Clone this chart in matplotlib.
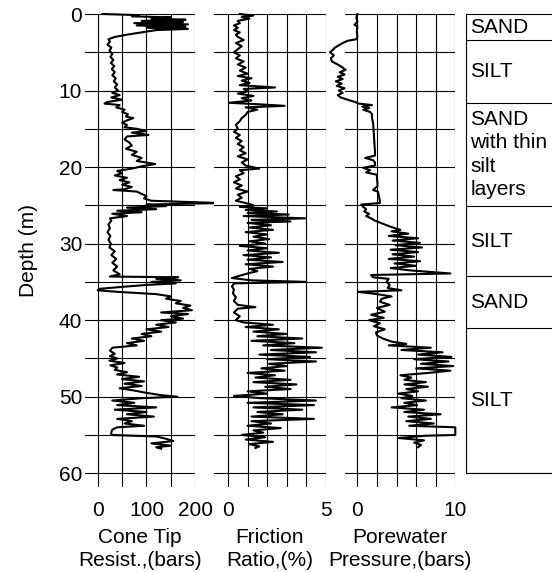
import numpy as np
import matplotlib
matplotlib.use('Agg')
import matplotlib.pyplot as plt

plt.rcParams['font.family'] = ['Liberation Sans', 'DejaVu Sans']
plt.rcParams['font.size'] = 15

# cone tip resistance (bars) vs depth (m)
cone_depth = [0.0, 0.15, 0.3, 0.45, 0.6, 0.75, 0.9, 1.05, 1.2, 1.35, 1.5, 1.65, 1.8, 1.95, 2.1, 2.4, 2.7,
              3.0, 3.3, 3.6, 4.0, 4.4, 4.8, 5.2, 5.6, 6.0, 6.4, 6.8, 7.2, 7.6, 8.0, 8.4, 8.8, 9.2, 9.6,
              10.0, 10.3, 10.6, 10.9, 11.2, 11.5, 11.7, 11.9, 12.2, 12.5, 12.8, 13.1, 13.4, 13.6, 13.9,
              14.2, 14.5, 14.8, 15.0, 15.3, 15.5, 15.8, 16.0, 16.4, 16.8, 17.2, 17.6, 18.0, 18.4, 18.8,
              19.2, 19.6, 19.9, 20.2, 20.5, 20.8, 21.1, 21.4, 21.7, 22.0, 22.3, 22.6, 22.9, 23.0, 23.2,
              23.5, 23.8, 24.1, 24.4, 24.7, 24.9, 25.1, 25.3, 25.5, 25.7, 25.9, 26.1, 26.4, 26.7, 27.0,
              27.5, 28.0, 28.5, 29.0, 29.5, 30.0, 30.5, 31.0, 31.5, 32.0, 32.5, 33.0, 33.5, 34.0, 34.3,
              34.4, 34.6, 34.8, 35.0, 35.2, 35.4, 35.6, 35.9, 36.1, 36.3, 36.6, 36.9, 37.2, 37.5, 37.8,
              38.1, 38.4, 38.7, 39.0, 39.2, 39.5, 39.8, 40.0, 40.3, 40.6, 40.9, 41.2, 41.5, 41.8, 42.1,
              42.4, 42.7, 43.0, 43.3, 43.6, 44.0, 44.4, 44.7, 45.0, 45.3, 45.6, 45.9, 46.2, 46.5, 46.8,
              47.1, 47.4, 47.7, 48.0, 48.3, 48.6, 48.9, 49.2, 49.5, 49.8, 50.0, 50.2, 50.5, 50.8, 51.1,
              51.4, 51.7, 52.0, 52.3, 52.6, 52.9, 53.2, 53.5, 53.8, 54.0, 54.3, 54.6, 55.0, 55.2, 55.5,
              55.8, 56.1, 56.4, 56.6, 56.8]
cone_tip = [10, 85, 70, 150, 110, 180, 90, 175, 75, 185, 80, 180, 100, 185, 120, 90, 60,
            35, 22, 25, 20, 28, 24, 30, 26, 32, 27, 34, 29, 35, 30, 37, 33, 40, 35,
            42, 30, 45, 28, 50, 20, 14, 45, 38, 55, 50, 62, 58, 73, 60,
            50, 60, 55, 80, 100, 70, 104, 60, 55, 65, 70, 58, 80, 70, 90,
            80, 118, 90, 70, 40, 50, 35, 60, 45, 65, 50, 70, 55, 32, 80,
            90, 100, 95, 110, 251, 100, 140, 60, 120, 40, 90, 30, 60, 25, 28,
            22, 25, 20, 26, 22, 27, 24, 35, 28, 38, 30, 40, 32, 45, 25,
            165, 120, 170, 110, 160, 100, 60, 5, 0, 40, 120, 150, 140, 170, 160,
            190, 175, 193, 130, 185, 150, 175, 130, 160, 120, 145, 100, 130, 90, 110,
            70, 95, 60, 80, 30, 25, 35, 25, 40, 24, 55, 26, 40, 35, 60,
            40, 85, 50, 95, 55, 90, 45, 75, 100, 130, 163, 90, 30, 75, 40,
            120, 35, 100, 60, 115, 40, 70, 55, 95, 40, 30, 28, 28, 120, 140,
            155, 110, 150, 120, 130]

# friction ratio (%)
fric_depth = [0.0, 0.2, 0.4, 0.6, 0.9, 1.2, 1.5, 1.8, 2.1, 2.4, 2.7, 3.0, 3.4, 3.8, 4.2, 4.6, 5.0, 5.4,
              5.8, 6.2, 6.6, 7.0, 7.4, 7.8, 8.1, 8.4, 8.7, 9.0, 9.3, 9.6, 9.8, 10.1, 10.4, 10.7, 11.0,
              11.3, 11.6, 11.8, 12.0, 12.2, 12.5, 12.8, 13.2, 13.6, 14.0, 14.5, 15.0, 15.4, 15.8, 16.2,
              16.6, 17.0, 17.4, 17.8, 18.2, 18.6, 19.0, 19.4, 19.8, 20.2, 20.4, 20.8, 21.2, 21.6, 22.0,
              22.4, 22.8, 23.2, 23.6, 24.0, 24.4, 24.7, 25.0, 25.2, 25.4, 25.6, 25.8, 26.0, 26.2, 26.4,
              26.7, 26.9, 27.1, 27.3, 27.6, 27.9, 28.2, 28.5, 28.8, 29.1, 29.4, 29.7, 30.0, 30.3, 30.6,
              30.9, 31.2, 31.5, 31.8, 32.1, 32.4, 32.7, 33.0, 33.3, 33.6, 33.9, 34.2, 34.5, 34.8, 35.0,
              35.2, 35.6, 36.0, 36.5, 37.0, 37.5, 38.0, 38.3, 38.5, 39.0, 39.5, 40.0, 40.3, 40.6, 40.9,
              41.2, 41.5, 41.8, 42.1, 42.4, 42.7, 43.0, 43.3, 43.6, 43.9, 44.2, 44.5, 44.8, 45.1, 45.4,
              45.7, 46.0, 46.3, 46.6, 46.9, 47.2, 47.5, 47.8, 48.1, 48.4, 48.7, 49.0, 49.3, 49.6, 49.9,
              50.2, 50.5, 50.8, 51.1, 51.4, 51.7, 52.0, 52.3, 52.6, 52.9, 53.2, 53.5, 53.8, 54.1, 54.4,
              54.7, 55.0, 55.3, 55.6, 55.9, 56.2, 56.5, 56.7]
friction = [0.6, 1.3, 0.7, 1.1, 0.5, 0.6, 0.3, 0.5, 0.3, 0.6, 0.4, 0.5, 0.8, 0.4, 0.7, 0.5, 0.3, 0.6,
            0.4, 0.8, 0.5, 0.9, 0.6, 1.0, 0.5, 1.2, 0.7, 1.1, 0.6, 2.4, 0.8, 1.0, 0.5, 1.3, 0.7,
            1.2, 0.05, 1.6, 2.9, 0.9, 1.5, 1.0, 0.9, 0.7, 0.6, 0.4, 0.5, 0.3, 0.6, 0.4,
            0.7, 0.5, 0.8, 0.6, 0.9, 0.5, 1.0, 0.7, 0.9, 1.6, 0.6, 0.8, 0.4, 0.6, 0.3,
            0.7, 0.4, 1.0, 0.5, 0.7, 0.4, 0.9, 1.3, 0.6, 2.0, 0.9, 2.5, 1.0, 3.1, 0.8,
            3.95, 1.2, 3.2, 1.0, 2.2, 1.1, 2.3, 0.9, 2.0, 1.3, 2.1, 1.1, 1.9, 0.6, 2.0,
            1.0, 2.6, 0.8, 2.2, 1.0, 2.8, 0.9, 2.3, 1.1, 1.5, 1.0, 0.6, 0.2, 1.2, 4.0,
            0.3, 0.2, 0.3, 0.25, 0.4, 0.3, 0.5, 1.4, 0.5, 0.3, 0.6, 0.4, 0.8, 2.3, 0.9,
            2.6, 1.3, 3.0, 1.5, 3.8, 1.2, 3.4, 1.8, 4.8, 2.2, 4.5, 1.6, 4.2, 2.0, 4.5,
            2.1, 3.0, 1.7, 2.9, 1.0, 2.4, 1.4, 3.2, 1.3, 3.5, 1.9, 3.2, 1.0, 2.0, 0.3,
            1.7, 4.5, 1.0, 4.4, 1.3, 3.8, 1.5, 2.8, 1.2, 4.4, 1.2, 2.2, 1.0, 2.7, 1.3,
            1.8, 0.7, 1.9, 0.9, 2.3, 1.1, 1.6, 1.4]

# porewater pressure (bars)
pore_depth = [0.0, 0.5, 1.0, 1.4, 1.6, 2.2, 3.0, 3.3, 3.5, 3.8, 4.1, 4.4, 4.7, 5.0, 5.4, 5.8, 6.2, 6.6,
              7.0, 7.3, 7.6, 7.9, 8.2, 8.5, 8.8, 9.1, 9.4, 9.7, 10.0, 10.3, 10.6, 10.9, 11.2, 11.5,
              11.7, 11.9, 12.1, 12.3, 12.5, 12.8, 13.1, 13.6, 14.2, 15.0, 16.0, 17.0, 18.0, 18.5, 18.8,
              19.1, 19.4, 19.8, 20.1, 20.4, 20.7, 21.0, 21.5, 22.0, 22.5, 23.0, 23.2, 23.8, 24.4, 24.7,
              24.9, 25.2, 25.5, 25.8, 26.1, 26.4, 26.7, 27.0, 27.4, 27.8, 28.2, 28.4, 28.7, 29.0, 29.3,
              29.6, 29.9, 30.2, 30.5, 30.8, 31.1, 31.4, 31.7, 32.0, 32.3, 32.6, 32.9, 33.2, 33.5, 33.9,
              34.1, 34.4, 34.6, 35.0, 35.4, 35.8, 36.1, 36.3, 36.6, 36.9, 37.2, 37.6, 38.0, 38.4, 38.9,
              39.3, 39.7, 40.0, 40.4, 40.8, 41.2, 41.6, 42.0, 42.4, 42.8, 43.1, 43.3, 43.6, 43.9, 44.2,
              44.5, 44.8, 45.1, 45.4, 45.7, 46.0, 46.3, 46.6, 46.9, 47.2, 47.5, 47.8, 48.1, 48.4, 48.7,
              49.0, 49.3, 49.6, 49.9, 50.2, 50.5, 50.8, 51.1, 51.4, 51.7, 52.0, 52.3, 52.6, 52.9, 53.2,
              53.5, 53.8, 54.0, 55.0, 55.1, 55.4, 55.7, 56.0, 56.3, 56.6]
pore_pressure = [0.0, -0.1, 0.0, -0.3, 0.0, -0.05, 0.0, -0.1, -1.0, -1.5, -1.9, -2.3, -2.5, -2.8, -2.4, -2.7, -2.6, -2.0,
                 -1.5, -1.2, -1.8, -1.3, -2.0, -1.5, -2.2, -1.6, -2.1, -1.3, -1.9, -1.5, -2.0, -1.7, -1.0, -0.2,
                 0.1, 1.5, 0.5, 1.2, 0.6, 1.3, 1.5, 1.5, 1.6, 1.65, 1.7, 1.75, 1.8, 1.8, 0.8,
                 1.6, 1.8, 1.8, 0.6, 1.3, 0.9, 2.0, 2.0, 2.05, 2.05, 1.6, 2.1, 2.2, 2.3, 2.3,
                 0.4, 0.6, 0.9, 0.7, 1.2, 0.9, 1.4, 1.8, 2.6, 3.4, 4.4, 3.5, 5.2, 3.2, 6.2,
                 3.6, 6.4, 3.9, 6.6, 3.4, 6.2, 3.6, 5.8, 3.2, 6.4, 3.8, 6.0, 3.4, 5.4, 9.5,
                 1.4, 1.6, 3.2, 3.0, 3.3, 3.1, 4.5, 0.1, 2.0, 3.5, 2.5, 2.3, 3.3, 2.0, 2.8,
                 1.4, 2.7, 1.2, 2.3, 1.7, 2.8, 1.9, 2.0, 2.6, 3.5, 5.0, 3.2, 7.5, 4.5, 8.7,
                 6.2, 9.6, 5.8, 9.3, 6.5, 9.8, 6.0, 9.5, 7.2, 4.4, 5.5, 4.8, 7.0, 4.8, 7.2,
                 5.0, 6.2, 4.2, 5.6, 4.5, 7.0, 4.8, 6.1, 3.5, 6.8, 4.8, 8.5, 5.2, 7.5, 5.0,
                 7.8, 5.3, 10.0, 10.0, 7.0, 4.2, 6.8, 5.8, 6.5, 6.2]

# soil column
layer_tops = [0.0, 3.4, 11.6, 25.1, 34.3, 41.1]
layer_bottoms = [3.4, 11.6, 25.1, 34.3, 41.1, 60.0]
layer_names = ['SAND', 'SILT', 'SAND\nwith thin\nsilt\nlayers', 'SILT', 'SAND', 'SILT']

W, H = 552, 572
DEPTH_MAX = 61.8


def px_axes(fig, x0, x1, y0, y1):
    return fig.add_axes([x0 / W, 1 - y1 / H, (x1 - x0) / W, (y1 - y0) / H])


def log_panel(ax, depth, values, xlim, grid_step, label_ticks, xlabel, show_depth=False):
    ax.plot(values, depth, color='k', lw=1.5, clip_on=False, zorder=3)
    ax.set_xlim(xlim)
    ax.set_ylim(DEPTH_MAX, 0)
    ax.set_xticks(np.arange(0, xlim[1] + 1e-9, grid_step), minor=True)
    ax.set_xticks(label_ticks)
    ax.set_xticklabels([str(t) for t in label_ticks])
    ax.set_yticks(np.arange(0, 61, 5), minor=True)
    ax.set_yticks(np.arange(0, 61, 10))
    if not show_depth:
        ax.set_yticklabels([])
    else:
        ax.set_ylabel('Depth (m)', labelpad=15)
    ax.grid(True, which='both', color='k', lw=0.8)
    ax.set_axisbelow(True)
    ax.tick_params(which='both', length=0)
    ax.tick_params(axis='x', pad=10)
    ax.tick_params(axis='y', pad=2)
    for s in ax.spines.values():
        s.set_visible(False)
    ax.set_xlabel(xlabel, labelpad=6, linespacing=1.25)


fig = plt.figure(figsize=(W / 100, H / 100), dpi=100)

ax1 = px_axes(fig, 85, 195.3, 14, 487)
log_panel(ax1, cone_depth, cone_tip, (-26, 200), 50, [0, 100, 200],
          'Cone Tip\nResist.,(bars)', show_depth=True)

ax2 = px_axes(fig, 214, 325.7, 14, 487)
log_panel(ax2, fric_depth, friction, (-0.72, 5), 1, [0, 5], 'Friction\nRatio,(%)')

ax3 = px_axes(fig, 345, 455.3, 14, 487)
log_panel(ax3, pore_depth, pore_pressure, (-1.26, 10), 2, [0, 10], 'Porewater\nPressure,(bars)')

ax4 = px_axes(fig, 466, 575, 14, 473)
ax4.set_xlim(0, 1)
ax4.set_ylim(60, 0)
ax4.set_xticks([])
ax4.set_yticks([])
for s in ax4.spines.values():
    s.set_linewidth(0.8)
for top, bot, name in zip(layer_tops, layer_bottoms, layer_names):
    ax4.axhline(bot, color='k', lw=0.8)
    ax4.text(0.04, (top + bot) / 2, name, ha='left', va='center', linespacing=1.3)

plt.savefig('out.png', dpi=100)
